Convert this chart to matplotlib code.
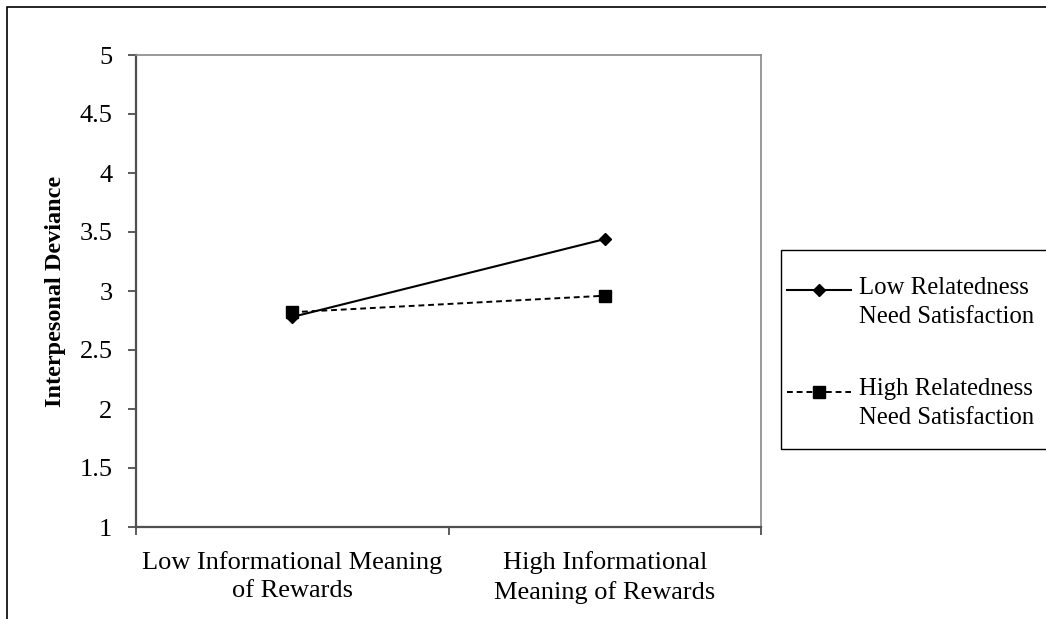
import matplotlib

matplotlib.use("Agg")
import matplotlib.pyplot as plt  # noqa: E402
from matplotlib.legend_handler import HandlerLine2D  # noqa: E402
from matplotlib.patches import Rectangle  # noqa: E402

categories = ["Low Informational Meaning\nof Rewards", "High Informational\nMeaning of Rewards"]
low_relatedness = [2.78, 3.44]
high_relatedness = [2.82, 2.96]
series_labels = ["Low Relatedness\nNeed Satisfaction", "High Relatedness\nNeed Satisfaction"]
y_ticks = [1, 1.5, 2, 2.5, 3, 3.5, 4, 4.5, 5]

plt.rcParams["font.family"] = ["Liberation Serif", "DejaVu Serif"]


class FirstLineHandler(HandlerLine2D):
    # put the legend line beside the first text line, not the middle of the block
    def create_artists(self, legend, orig_handle, xdescent, ydescent, width, height,
                       fontsize, trans):
        return super().create_artists(legend, orig_handle, xdescent, ydescent - 0.97 * fontsize,
                                      width, height, fontsize, trans)


W, H = 1046, 619
fig = plt.figure(figsize=(W / 100, H / 100), dpi=100)

# outer frame of the picture
fig.patches.append(Rectangle((7 / W, -0.1), 1.2, 1.1 - 7 / H, transform=fig.transFigure,
                             fill=False, edgecolor="black", linewidth=1.2))
# legend frame
fig.patches.append(Rectangle((781 / W, 1 - 449 / H), 0.3, (449 - 250) / H,
                             transform=fig.transFigure, fill=False, edgecolor="black",
                             linewidth=1.0))

ax = fig.add_axes([136 / W, 1 - 527 / H, (761 - 136) / W, (527 - 55) / H])

x = [0.5, 1.5]
ax.plot(x, low_relatedness, color="black", linewidth=1.5, marker="D", markersize=6.5,
        label=series_labels[0])
ax.plot(x, high_relatedness, color="black", linewidth=1.4, linestyle=(0, (3, 2)),
        marker="s", markersize=8.5, label=series_labels[1])

ax.set_xlim(0, 2)
ax.set_ylim(1, 5)
ax.set_yticks(y_ticks)
ax.set_yticklabels([f"{v:g}" for v in y_ticks])
ax.set_xticks([0, 1, 2])
ax.set_xticklabels([])
ax.set_xticks(x, minor=True)
ax.set_xticklabels(categories, minor=True, linespacing=1.4)
ax.tick_params(axis="x", which="minor", length=0, pad=17, labelsize=19)
ax.tick_params(axis="x", which="major", direction="out", length=6, width=1.2, color="#404040")
ax.tick_params(axis="y", direction="out", length=6, width=1.2, color="#404040", pad=11,
               labelsize=19)

for side in ["left", "bottom"]:
    ax.spines[side].set_color("#505050")
    ax.spines[side].set_linewidth(1.6)
for side in ["top", "right"]:
    ax.spines[side].set_color("#888888")
    ax.spines[side].set_linewidth(1.2)

ax.set_ylabel("Interpesonal Deviance", fontsize=17.5, fontweight="bold", labelpad=10)

leg = ax.legend(loc="upper left", bbox_to_anchor=(787 / W, 1 - 277 / H),
                bbox_transform=fig.transFigure, borderaxespad=0, borderpad=0,
                fontsize=17.8, frameon=False, handlelength=2.6, handletextpad=0.3,
                labelspacing=2.05, handler_map={ln: FirstLineHandler() for ln in ax.get_lines()})
for t in leg.get_texts():
    t.set_linespacing(1.4)

fig.savefig("out.png", dpi=100)
